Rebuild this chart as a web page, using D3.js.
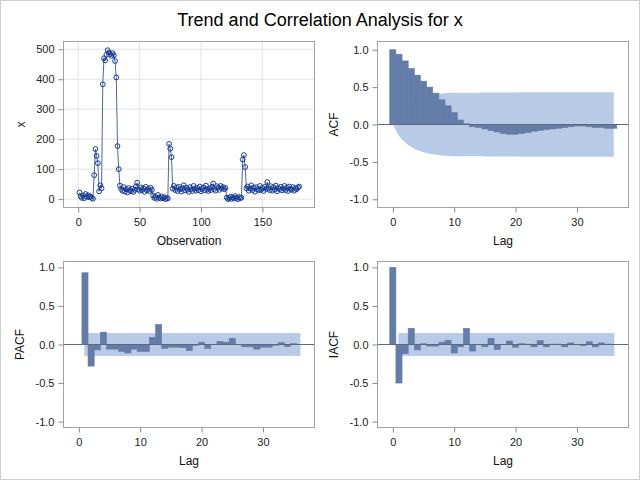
<!DOCTYPE html>
<html>
<head>
<meta charset="utf-8">
<script src="https://cdn.jsdelivr.net/npm/d3@7"></script>
<style>
body{margin:0;background:#fff;}
svg{display:block;font-family:"Liberation Sans",Arial,sans-serif;}
</style>
</head>
<body>
<div id="chart"></div>
<script>
// series x, observations 1..180
var xValues = [
    22, 9, 4, 12, 3, 17, 8, 13, 6, 9, 4, 1,
    80, 167, 144, 120, 26, 46, 36,
    383, 470, 463, 482, 497, 489, 484, 478, 487, 480, 461, 406, 177, 100, 45,
    34, 28, 40, 25, 33, 22, 37, 30, 26, 35, 24, 31, 42, 55, 33, 28, 39, 30, 36, 24, 41, 29, 34, 27, 38, 31,
    12, 4, 8, 1, 14, 5, 2, 9, 3, 6, 0, 4, 2,
    184, 168, 140, 35,
    44, 30, 38, 27, 41, 33, 25, 36, 46, 29, 38, 31, 24, 40, 33, 27, 44, 35, 28, 37,
    30, 42, 26, 34, 39, 29, 45, 32, 27, 36, 30, 41, 52, 34, 28, 43, 38, 31, 44, 36, 40, 33, 37,
    5, 0, 3, 8, 1, 6, 2, 10, 4, 0, 7, 3, 5,
    132, 147, 107, 36,
    42, 28, 35, 46, 30, 38, 25, 40, 33, 29, 44, 31, 37, 27, 41, 34, 57, 36, 30, 43,
    28, 39, 32, 45, 26, 37, 33, 41, 29, 35, 44, 30, 38, 27, 42, 34, 31, 40, 28, 36, 33, 39, 42
];

// autocorrelations, lags 0..36
var acfValues = [1.00, 0.94, 0.85, 0.75, 0.66, 0.58, 0.50, 0.42, 0.33, 0.25, 0.16, 0.06, 0.01,
    -0.03, -0.04, -0.06, -0.08, -0.10, -0.12, -0.13, -0.13, -0.12, -0.11, -0.09, -0.08, -0.07,
    -0.06, -0.05, -0.04, -0.03, -0.02, -0.02, -0.03, -0.04, -0.04, -0.05, -0.05];
// 2 std err limits for acf, lags 0..36
var acfLimit = [0, 0.15, 0.24, 0.30, 0.34, 0.37, 0.39, 0.405, 0.415, 0.42, 0.423, 0.425, 0.426,
    0.426, 0.426, 0.427, 0.427, 0.428, 0.428, 0.429, 0.429, 0.43, 0.43, 0.43, 0.43, 0.43,
    0.43, 0.43, 0.43, 0.43, 0.43, 0.43, 0.43, 0.43, 0.43, 0.43, 0.43];

// partial autocorrelations, lags 1..36
var pacfValues = [0.93, -0.28, -0.07, 0.16, -0.06, -0.06, -0.09, -0.11, -0.06, -0.09, -0.09, 0.09,
    0.26, -0.05, -0.035, -0.035, -0.04, -0.08, -0.01, 0.03, -0.05, 0.0, 0.04, 0.03,
    0.08, 0.0, -0.03, -0.03, -0.06, -0.035, -0.035, -0.01, 0.025, -0.025, 0.01, 0.0];

// inverse autocorrelations, lags 0..36
var iacfValues = [1.0, -0.50, -0.12, 0.21, -0.07, 0.01, -0.02, -0.02, 0.03, 0.055, -0.11, -0.03,
    0.21, -0.085, 0.0, -0.03, 0.08, -0.065, 0.0, 0.045, -0.035, 0.01, 0.005, -0.03, 0.05,
    -0.03, 0.005, 0.005, -0.03, 0.02, 0.0, -0.015, 0.035, -0.03, 0.02, 0.005, 0.0];

var whiteNoiseLimit = 0.148;

var obsTicks = [0, 50, 100, 150];
var xTicks = [0, 100, 200, 300, 400, 500];
var lagTicks = [0, 10, 20, 30];
var corrTicks = [-1, -0.5, 0, 0.5, 1];

var W = 640, H = 480;
var barColor = "#637ca8", bandColor = "#b8cbe6", frameColor = "#a3a3a3";

var svg = d3.select("#chart").append("svg").attr("width", W).attr("height", H);

svg.append("rect").attr("x", 0.5).attr("y", 0.5).attr("width", W - 1).attr("height", H - 1)
    .attr("fill", "#fff").attr("stroke", "#cfcfcf");

svg.append("text").attr("x", 320).attr("y", 26).attr("text-anchor", "middle")
    .attr("font-size", "18px").attr("fill", "#000")
    .text("Trend and Correlation Analysis for x");

function styleAxis(g){
    g.select(".domain").remove();
    g.selectAll(".tick line").attr("stroke", "#8a8a8a");
    g.selectAll(".tick text").attr("fill", "#222").attr("font-size", "11px")
        .attr("font-family", "Liberation Sans, Arial, sans-serif");
}

function frame(box){
    svg.append("rect").attr("x", box.x).attr("y", box.y)
        .attr("width", box.w).attr("height", box.h)
        .attr("fill", "none").attr("stroke", frameColor);
}

function axisLabels(box, xlab, ylab, ylabX){
    svg.append("text").attr("x", box.x + box.w / 2).attr("y", box.y + box.h + 37.5)
        .attr("text-anchor", "middle").attr("font-size", "12px").attr("fill", "#111").text(xlab);
    svg.append("text")
        .attr("transform", "translate(" + ylabX + "," + (box.y + box.h / 2) + ") rotate(-90)")
        .attr("text-anchor", "middle").attr("font-size", "12px").attr("fill", "#111").text(ylab);
}

// ---- series plot
function drawSeries(box){
    var xs = d3.scaleLinear().domain([-12, 192.5]).range([box.x, box.x + box.w]);
    var ys = d3.scaleLinear().domain([-28, 526]).range([box.y + box.h, box.y]);
    var data = xValues.map(function(v, i){ return {obs: i + 1, value: v}; });
    var g = svg.append("g");

    g.selectAll("line.gx").data(obsTicks).enter().append("line").attr("class", "gx")
        .attr("x1", function(d){ return xs(d); }).attr("x2", function(d){ return xs(d); })
        .attr("y1", box.y).attr("y2", box.y + box.h).attr("stroke", "#e3e3e3");
    g.selectAll("line.gy").data(xTicks).enter().append("line").attr("class", "gy")
        .attr("y1", function(d){ return ys(d); }).attr("y2", function(d){ return ys(d); })
        .attr("x1", box.x).attr("x2", box.x + box.w).attr("stroke", "#e3e3e3");

    var line = d3.line().x(function(d){ return xs(d.obs); }).y(function(d){ return ys(d.value); });
    g.append("path").datum(data).attr("d", line)
        .attr("fill", "none").attr("stroke", "#4a68b0").attr("stroke-width", 1);
    g.selectAll("circle").data(data).enter().append("circle")
        .attr("cx", function(d){ return xs(d.obs); })
        .attr("cy", function(d){ return ys(d.value); })
        .attr("r", 2.4).attr("fill", "none").attr("stroke", "#163b98").attr("stroke-width", 1);

    frame(box);
    svg.append("g").attr("transform", "translate(0," + (box.y + box.h) + ")")
        .call(d3.axisBottom(xs).tickValues(obsTicks).tickSize(5).tickPadding(6)).call(styleAxis);
    svg.append("g").attr("transform", "translate(" + box.x + ",0)")
        .call(d3.axisLeft(ys).tickValues(xTicks).tickSize(5).tickPadding(4)).call(styleAxis);
    axisLabels(box, "Observation", "x", 25);
}

// ---- correlation panels
function drawCorr(box, opts){
    var xs = d3.scaleLinear().domain([-2.5, 38.4]).range([box.x, box.x + box.w]);
    var ys = d3.scaleLinear().domain([-opts.yExt, opts.yExt]).range([box.y + box.h, box.y]);
    var data = opts.values.map(function(v, i){ return {lag: i + opts.firstLag, value: v}; });
    var g = svg.append("g");

    if (opts.limits) {
        var band = opts.limits.map(function(v, i){ return {lag: i, value: v}; });
        g.append("path").datum(band)
            .attr("d", d3.area().curve(d3.curveMonotoneX)
                .x(function(d){ return xs(d.lag); })
                .y0(function(d){ return ys(-d.value); })
                .y1(function(d){ return ys(d.value); }))
            .attr("fill", bandColor);
    } else {
        g.append("rect").attr("x", xs(0.9)).attr("width", xs(36.1) - xs(0.9))
            .attr("y", ys(opts.limit)).attr("height", ys(-opts.limit) - ys(opts.limit))
            .attr("fill", bandColor);
    }

    g.selectAll("rect.bar").data(data).enter().append("rect").attr("class", "bar")
        .attr("x", function(d){ return xs(d.lag - 0.5); })
        .attr("width", xs(1) - xs(0))
        .attr("y", function(d){ return ys(Math.max(0, d.value)); })
        .attr("height", function(d){ return Math.abs(ys(d.value) - ys(0)); })
        .attr("fill", barColor).attr("stroke", barColor).attr("stroke-width", 0.6);

    g.append("line").attr("x1", box.x).attr("x2", box.x + box.w)
        .attr("y1", ys(0)).attr("y2", ys(0)).attr("stroke", "#5f6877");

    frame(box);
    svg.append("g").attr("transform", "translate(0," + (box.y + box.h) + ")")
        .call(d3.axisBottom(xs).tickValues(lagTicks).tickSize(5).tickPadding(6)).call(styleAxis);
    svg.append("g").attr("transform", "translate(" + box.x + ",0)")
        .call(d3.axisLeft(ys).tickValues(corrTicks).tickSize(5).tickPadding(4)
            .tickFormat(function(d){ return d.toFixed(1); }))
        .call(styleAxis);
    axisLabels(box, "Lag", opts.label, opts.labelX);
}

var colLeft = 63.5, colRight = 377.5, rowTop = 41.5, rowBottom = 261.5, pw = 251, ph = 166;

drawSeries({x: colLeft, y: rowTop, w: pw, h: ph});
drawCorr({x: colRight, y: rowTop, w: pw, h: ph},
    {values: acfValues, firstLag: 0, limits: acfLimit, yExt: 1.11, label: "ACF", labelX: 338});
drawCorr({x: colLeft, y: rowBottom, w: pw, h: ph},
    {values: pacfValues, firstLag: 1, limit: whiteNoiseLimit, yExt: 1.076, label: "PACF", labelX: 24});
drawCorr({x: colRight, y: rowBottom, w: pw, h: ph},
    {values: iacfValues, firstLag: 0, limit: whiteNoiseLimit, yExt: 1.076, label: "IACF", labelX: 338});
</script>
</body>
</html>
